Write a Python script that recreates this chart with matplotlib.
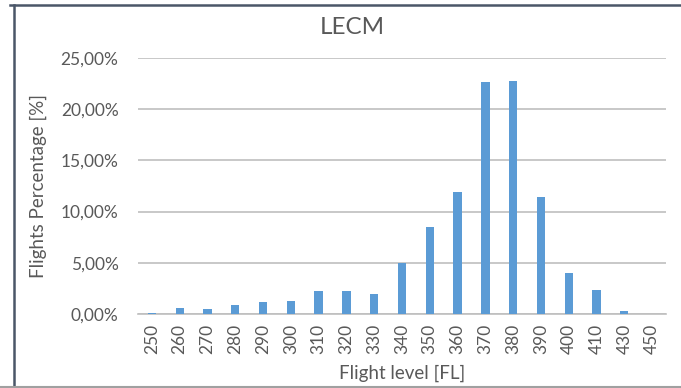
import matplotlib
matplotlib.use("Agg")
import matplotlib.pyplot as plt
from matplotlib.lines import Line2D
from matplotlib.ticker import FuncFormatter

levels = ["250", "260", "270", "280", "290", "300", "310", "320", "330", "340",
          "350", "360", "370", "380", "390", "400", "410", "430", "450"]
percent = [0.10, 0.60, 0.50, 0.90, 1.20, 1.30, 2.25, 2.25, 1.95, 5.00,
           8.50, 11.90, 22.65, 22.75, 11.40, 4.00, 2.30, 0.30, 0.00]
values = [p / 100 for p in percent]

plt.rcParams['font.family'] = ['Lato', 'DejaVu Sans']
txt = '#595959'

fig = plt.figure(figsize=(6.81, 3.88), dpi=100)
W, H = 681, 388
ax = fig.add_axes([138 / W, 1 - 314 / H, (666 - 138) / W, (314 - 58) / H])

x = list(range(len(levels)))
ax.bar(x, values, width=0.3, color='#5B9BD5', zorder=3)
ax.set_xlim(-0.5, len(levels) - 0.5)
ax.set_ylim(0, 0.25)
ax.set_yticks([0, 0.05, 0.10, 0.15, 0.20, 0.25])
ax.yaxis.set_major_formatter(FuncFormatter(lambda v, p: f"{v*100:.2f}%".replace('.', ',')))
ax.set_xticks(x)
ax.set_xticklabels(levels, rotation=90)
ax.tick_params(axis='both', length=0, labelsize=12.5, colors=txt)
ax.tick_params(axis='y', pad=14)
ax.tick_params(axis='x', pad=7)
ax.grid(axis='y', color='#BFBFBF', linewidth=1.2, zorder=0)
for s in ['top', 'right', 'left']:
    ax.spines[s].set_visible(False)
ax.spines['bottom'].set_color('#BFBFBF')
ax.spines['bottom'].set_linewidth(1.2)

ax.set_xlabel("Flight level [FL]", fontsize=13.5, color=txt, labelpad=8)
ax.set_ylabel("Flights Percentage [%]", fontsize=13.5, color=txt, labelpad=10)
fig.text(352 / W, 1 - 28 / H, "LECM", ha='center', va='center', fontsize=17.5, color=txt)

fig.add_artist(Line2D([14 / W, 14 / W], [0, 1 - 5 / H], transform=fig.transFigure,
                      color='#4A5668', linewidth=1.8))
fig.add_artist(Line2D([10 / W, 1], [1 - 5 / H, 1 - 5 / H], transform=fig.transFigure,
                      color='#4A5668', linewidth=1.8))
fig.add_artist(Line2D([0, 1], [1.5 / H, 1.5 / H], transform=fig.transFigure,
                      color='#A0A0A0', linewidth=1.5))

fig.savefig("out.png", dpi=100)
